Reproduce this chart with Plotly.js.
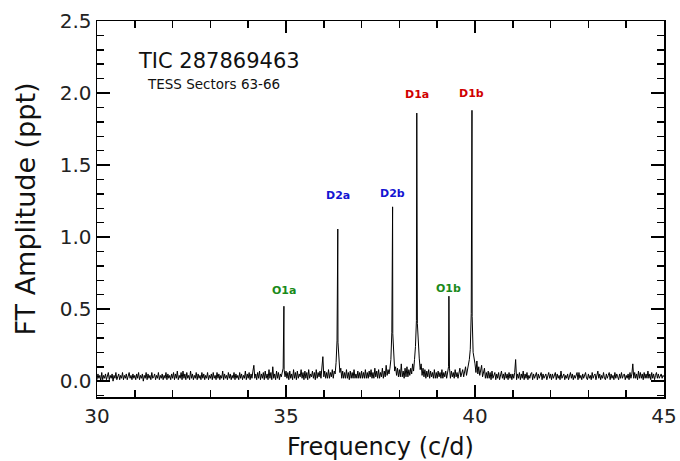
<!DOCTYPE html>
<html>
<head>
<meta charset="utf-8">
<script src="https://cdn.plot.ly/plotly-3.0.1.min.js"></script>
<style>
  html, body { margin: 0; padding: 0; background: #fff; }
  #chart { width: 680px; height: 461px; }
</style>
</head>
<body>
<div id="chart"></div>
<script>
// ---- Data ----
// Noise floor of the amplitude spectrum, sampled every 0.025 c/d from 30 to 45 c/d
var noiseStart = 30.0;
var noiseStep = 0.025;
var noiseAmp = [
  // 30
  0.01,0.05,0.02,0.04,0.00,0.06,0.01,0.04,0.02,0.05,0.01,0.03,0.06,0.01,0.04,0.02,0.05,0.00,0.04,0.02,0.06,0.01,0.03,0.05,0.01,0.04,0.02,0.06,0.01,0.04,0.02,0.05,0.01,0.03,0.06,0.02,0.04,0.01,0.05,0.02,
  // 31
  0.04,0.01,0.05,0.02,0.06,0.01,0.04,0.02,0.05,0.00,0.04,0.02,0.06,0.01,0.05,0.02,0.04,0.01,0.06,0.02,0.03,0.05,0.01,0.04,0.02,0.06,0.01,0.04,0.02,0.05,0.01,0.04,0.02,0.06,0.01,0.05,0.02,0.04,0.01,0.05,
  // 32
  0.02,0.06,0.01,0.05,0.02,0.07,0.01,0.04,0.02,0.06,0.01,0.07,0.02,0.05,0.01,0.06,0.02,0.04,0.01,0.07,0.02,0.05,0.01,0.04,0.02,0.06,0.01,0.05,0.02,0.04,0.01,0.06,0.02,0.05,0.01,0.04,0.02,0.06,0.01,0.04,
  // 33
  0.02,0.05,0.01,0.06,0.02,0.04,0.01,0.06,0.02,0.05,0.01,0.04,0.02,0.07,0.01,0.05,0.02,0.04,0.01,0.06,0.02,0.05,0.01,0.04,0.02,0.06,0.01,0.05,0.02,0.04,0.01,0.06,0.02,0.05,0.01,0.04,0.02,0.07,0.01,0.05,
  // 34
  0.02,0.06,0.01,0.05,0.02,0.07,0.11,0.02,0.05,0.01,0.06,0.02,0.07,0.01,0.05,0.02,0.06,0.01,0.07,0.02,0.05,0.01,0.08,0.02,0.06,0.01,0.10,0.02,0.05,0.01,0.07,0.02,0.06,0.01,0.05,0.03,0.06,0.09,0.08,0.03,
  // 35
  0.07,0.02,0.06,0.01,0.07,0.02,0.05,0.01,0.08,0.02,0.06,0.01,0.07,0.02,0.05,0.03,0.08,0.02,0.06,0.01,0.07,0.02,0.06,0.01,0.08,0.02,0.05,0.03,0.07,0.02,0.06,0.01,0.08,0.02,0.06,0.03,0.07,0.02,0.09,0.17,
  // 36
  0.03,0.07,0.02,0.06,0.02,0.08,0.02,0.06,0.03,0.08,0.02,0.07,0.05,0.13,0.28,0.27,0.14,0.06,0.09,0.02,0.07,0.02,0.06,0.02,0.08,0.02,0.06,0.01,0.07,0.02,0.06,0.02,0.08,0.02,0.05,0.02,0.07,0.02,0.06,0.02,
  // 37
  0.07,0.02,0.06,0.02,0.08,0.02,0.06,0.02,0.07,0.03,0.08,0.02,0.06,0.02,0.09,0.03,0.07,0.02,0.08,0.02,0.06,0.03,0.09,0.02,0.07,0.03,0.11,0.04,0.08,0.05,0.09,0.15,0.34,0.33,0.14,0.07,0.10,0.04,0.09,0.03,
  // 38
  0.08,0.03,0.12,0.03,0.07,0.02,0.09,0.03,0.10,0.03,0.08,0.04,0.09,0.05,0.12,0.07,0.15,0.24,0.42,0.40,0.22,0.16,0.08,0.12,0.04,0.09,0.03,0.08,0.02,0.07,0.03,0.08,0.02,0.07,0.03,0.06,0.02,0.08,0.02,0.06,
  // 39
  0.02,0.07,0.03,0.06,0.02,0.08,0.02,0.06,0.03,0.07,0.02,0.05,0.10,0.09,0.02,0.07,0.03,0.06,0.02,0.08,0.03,0.06,0.02,0.07,0.09,0.03,0.06,0.08,0.03,0.07,0.10,0.04,0.08,0.09,0.15,0.22,0.47,0.45,0.20,0.17,
  // 40
  0.12,0.06,0.14,0.05,0.10,0.04,0.08,0.11,0.03,0.07,0.09,0.02,0.06,0.02,0.07,0.02,0.06,0.01,0.07,0.02,0.05,0.06,0.01,0.05,0.02,0.06,0.01,0.05,0.07,0.02,0.05,0.01,0.06,0.02,0.05,0.01,0.06,0.02,0.05,0.01,
  // 41
  0.05,0.02,0.06,0.15,0.01,0.05,0.02,0.06,0.01,0.05,0.02,0.07,0.01,0.05,0.02,0.06,0.01,0.04,0.02,0.05,0.06,0.01,0.05,0.02,0.04,0.06,0.01,0.05,0.02,0.04,0.06,0.01,0.05,0.02,0.04,0.05,0.01,0.04,0.06,0.02,
  // 42
  0.05,0.01,0.05,0.02,0.04,0.06,0.01,0.05,0.02,0.04,0.01,0.07,0.02,0.04,0.05,0.01,0.04,0.02,0.05,0.01,0.04,0.06,0.02,0.05,0.01,0.04,0.02,0.05,0.06,0.01,0.06,0.02,0.04,0.01,0.05,0.02,0.04,0.06,0.02,0.01,
  // 43
  0.05,0.02,0.04,0.01,0.06,0.02,0.04,0.05,0.01,0.04,0.07,0.02,0.05,0.01,0.04,0.02,0.06,0.02,0.01,0.05,0.02,0.04,0.06,0.01,0.05,0.02,0.04,0.01,0.06,0.02,0.05,0.03,0.01,0.05,0.02,0.06,0.02,0.04,0.05,0.01,
  // 44
  0.04,0.02,0.05,0.01,0.06,0.02,0.05,0.12,0.02,0.06,0.02,0.05,0.01,0.07,0.02,0.06,0.02,0.05,0.01,0.06,0.02,0.05,0.02,0.07,0.02,0.05,0.01,0.06,0.02,0.05,0.01,0.04,0.06,0.02,0.05,0.02,0.04,0.05,0.02,0.04,
  // 45
  0.03
];

// Identified pulsation peaks
var peakNames = ["O1a", "D2a", "D2b", "D1a", "O1b", "D1b"];
var peakFreq  = [34.945, 36.37, 37.82, 38.46, 39.31, 39.92];
var peakAmp   = [0.52, 1.056, 1.21, 1.861, 0.59, 1.88];
var peakLabelAmp = [0.63, 1.29, 1.30, 1.99, 0.645, 2.0];
var peakColor = ["#1a8a1a", "#1414d2", "#1414d2", "#d00000", "#1a8a1a", "#d00000"];

var titleText = "TIC 287869463";
var subtitleText = "TESS Sectors 63-66";

// ---- Build the spectrum line ----
var pts = [];
for (var i = 0; i < noiseAmp.length; i++) {
  pts.push([noiseStart + i * noiseStep, noiseAmp[i]]);
}
for (var k = 0; k < peakFreq.length; k++) {
  pts.push([peakFreq[k], peakAmp[k]]);
}
pts.sort(function (a, b) { return a[0] - b[0]; });
var fx = pts.map(function (p) { return p[0]; });
var fy = pts.map(function (p) { return p[1]; });

var FONT = "DejaVu Sans, Verdana, sans-serif";

var trace = {
  x: fx, y: fy,
  type: "scatter", mode: "lines",
  line: { color: "#000", width: 1.0 },
  hoverinfo: "skip"
};

var annotations = [];
for (var m = 0; m < peakNames.length; m++) {
  annotations.push({
    x: peakFreq[m], y: peakLabelAmp[m], xref: "x", yref: "y",
    text: "<b>" + peakNames[m] + "</b>", showarrow: false,
    xanchor: "center", yanchor: "middle",
    font: { family: FONT, size: 11, color: peakColor[m] }
  });
}
annotations.push({
  x: 0.069, y: 0.894, xref: "paper", yref: "paper",
  text: titleText, showarrow: false, xanchor: "left", yanchor: "middle",
  font: { family: FONT, size: 21, color: "#111" }
});
annotations.push({
  x: 0.084, y: 0.833, xref: "paper", yref: "paper",
  text: subtitleText, showarrow: false, xanchor: "left", yanchor: "middle",
  font: { family: FONT, size: 13.5, color: "#111" }
});

var axisCommon = {
  showgrid: false, zeroline: false,
  showline: true, linecolor: "#000", linewidth: 1.5,
  mirror: "ticks", ticks: "inside", tickcolor: "#000", tickwidth: 1.5,
  tickfont: { family: FONT, size: 20, color: "#222" }
};

var layout = {
  width: 680, height: 461,
  margin: { l: 97, r: 16, t: 21, b: 64, pad: 0 },
  paper_bgcolor: "#fff", plot_bgcolor: "#fff",
  showlegend: false,
  xaxis: Object.assign({}, axisCommon, {
    range: [30, 45], tickmode: "linear", tick0: 30, dtick: 5, ticklen: 12,
    minor: { dtick: 1, ticks: "inside", ticklen: 7, tickcolor: "#000", tickwidth: 1.5 },
    title: { text: "Frequency (c/d)", font: { family: FONT, size: 24, color: "#111" }, standoff: 14 }
  }),
  yaxis: Object.assign({}, axisCommon, {
    range: [-0.11, 2.5], tickmode: "linear", tick0: 0, dtick: 0.5, tickformat: ".1f", ticklen: 13,
    minor: { dtick: 0.1, ticks: "inside", ticklen: 7, tickcolor: "#000", tickwidth: 1.5 },
    title: { text: "FT Amplitude (ppt)", font: { family: FONT, size: 27, color: "#111" }, standoff: 16 }
  }),
  annotations: annotations
};

Plotly.newPlot("chart", [trace], layout, { staticPlot: true, displayModeBar: false });
</script>
</body>
</html>
